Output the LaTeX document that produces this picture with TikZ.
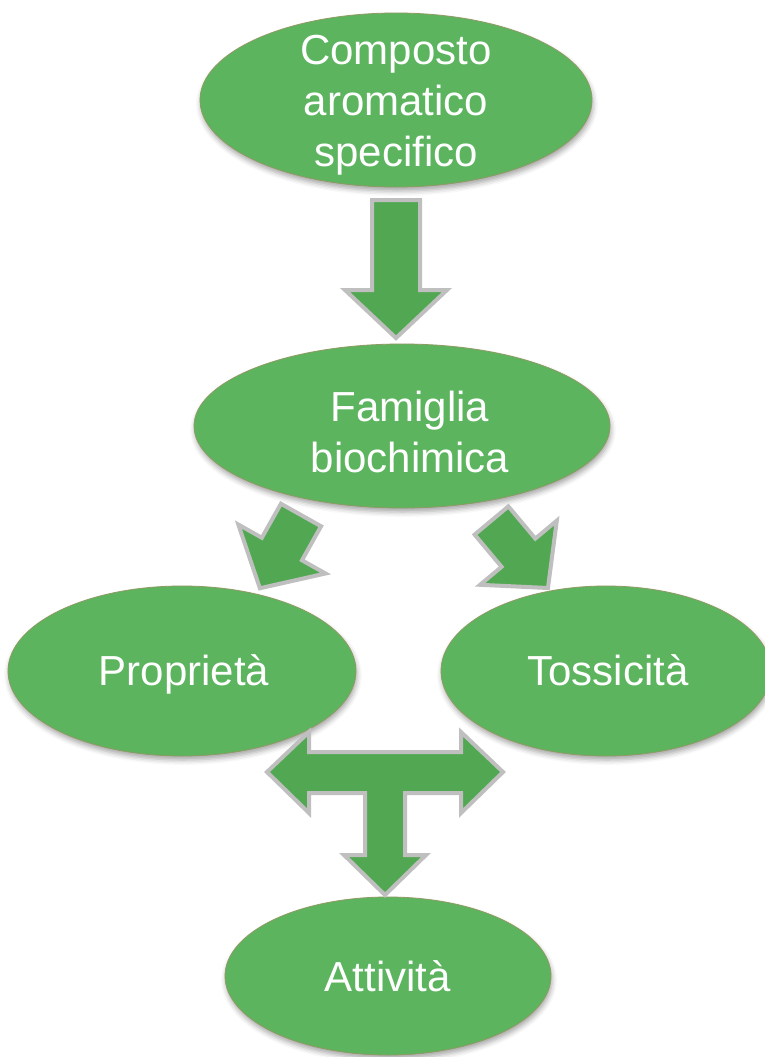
\documentclass[tikz,border=0pt]{standalone}
\usepackage{fontspec}
\setmainfont{Liberation Sans}
\usetikzlibrary{shapes.geometric,shadows.blur}
\definecolor{blobgreen}{HTML}{5CB45F}
\definecolor{blobedge}{HTML}{8E9B62}
\definecolor{arrowgreen}{HTML}{52A852}
\definecolor{arrowgray}{HTML}{BFBFBF}
\tikzset{
  blob/.style={ellipse, inner sep=0pt, fill=blobgreen, draw=blobedge, line width=0.8pt,
    blur shadow={shadow xshift=1pt, shadow yshift=-4pt, shadow opacity=35, shadow blur radius=5pt}},
  lbl/.style={text=white, font=\fontsize{42}{51}\selectfont, align=center, inner sep=0pt},
  blockarr/.style={fill=arrowgreen, draw=arrowgray, line width=4pt, line join=miter}
}
% tail centre x, tail centre y, canvas angle, shaft length, total length, shaft half width, head half width
\newcommand\blkarrow[7]{%
  \begin{scope}[shift={(#1,#2)}, rotate=#3]
    \draw[blockarr] (0,-#6) -- (#4,-#6) -- (#4,-#7) -- (#5,0) -- (#4,#7) -- (#4,#6) -- (0,#6) -- cycle;
  \end{scope}}
\begin{document}
\begin{tikzpicture}[x=1pt,y=-1pt]
\useasboundingbox (0,0) rectangle (765,1057);
% ellipses
\node[blob, minimum width=392pt, minimum height=174pt] (c1) at (396,100) {};
\node[blob, minimum width=416pt, minimum height=164pt] (c2) at (402,426) {};
\node[blob, minimum width=348pt, minimum height=170pt] (c3) at (182,671) {};
\node[blob, minimum width=330pt, minimum height=170pt] (c4) at (606,671) {};
\node[blob, minimum width=326pt, minimum height=158pt] (c5) at (388,976) {};
% labels
\node[lbl] (t1) at (396,105) {Composto\\aromatico\\specifico};
\node[lbl] (t2) at (410,432) {Famiglia\\biochimica};
\node[lbl] (t3) at (184,674) {Proprietà};
\node[lbl] (t4) at (608,670) {Tossicità};
\node[lbl] (t5) at (388,976) {Attività};
% block arrows
\blkarrow{396}{200}{-90}{90}{138}{24}{51}
\blkarrow{301}{515}{-119.3}{39}{84}{23}{50}
\blkarrow{491.5}{520.5}{-50.1}{42}{88}{22}{50}
% T-shaped arrow
\draw[blockarr] (267,772) -- (309,732) -- (309,752) -- (461,752) -- (461,732) -- (503,772)
  -- (461,813) -- (461,793) -- (405,793) -- (405,855) -- (426,855) -- (385,895)
  -- (344,855) -- (365,855) -- (365,793) -- (309,793) -- (309,813) -- cycle;
\end{tikzpicture}
\end{document}
